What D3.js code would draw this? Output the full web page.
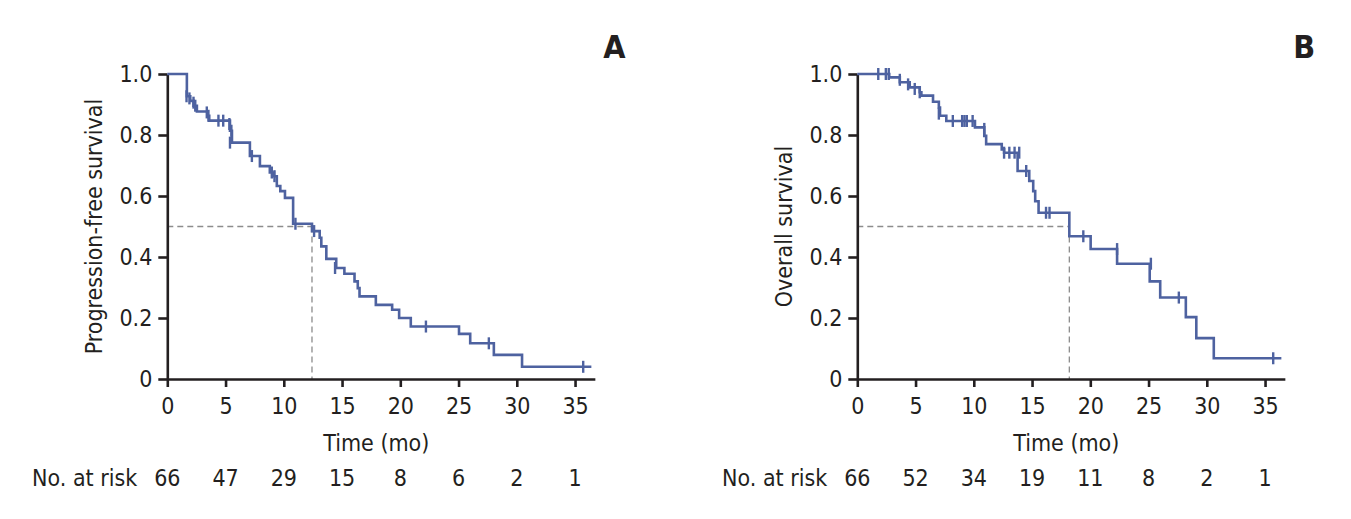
<!DOCTYPE html>
<html>
<head>
<meta charset="utf-8">
<script src="https://cdn.jsdelivr.net/npm/d3@7"></script>
<style>
  html, body { margin: 0; padding: 0; background: #fff; }
  svg { display: block; }
  text { font-family: "Liberation Sans Narrow", "DejaVu Sans Condensed", "Arial Narrow", sans-serif; fill: #231f20; }
</style>
</head>
<body>
<svg id="chart" width="1351" height="519"></svg>
<script>
// ---------- DATA ----------
const xTicks = [0, 5, 10, 15, 20, 25, 30, 35];
const yTicks = [0, 0.2, 0.4, 0.6, 0.8, 1.0];
const yTickLabels = ["0", "0.2", "0.4", "0.6", "0.8", "1.0"];

// Panel A: progression-free survival (step points: time, survival after step)
const pfsTimes = [0, 1.68, 1.97, 2.25, 2.54, 3.45, 3.6, 5.38, 5.55, 7.09, 7.95, 8.8, 9.15, 9.4, 9.7, 10.1, 10.8, 12.42, 13.08, 13.22, 13.65, 14.5, 15.2, 16.07, 16.35, 16.5, 17.9, 19.3, 19.9, 20.9, 25.04, 26.0, 28.03, 30.45, 36.4];
const pfsSurv  = [1.0, 0.927, 0.912, 0.896, 0.877, 0.863, 0.847, 0.814, 0.775, 0.731, 0.698, 0.677, 0.665, 0.633, 0.616, 0.594, 0.509, 0.485, 0.463, 0.435, 0.394, 0.364, 0.345, 0.32, 0.298, 0.271, 0.243, 0.227, 0.2, 0.172, 0.148, 0.117, 0.079, 0.04, 0.04];
const pfsCensorTimes = [1.65, 1.9, 2.25, 2.4, 3.39, 3.53, 4.39, 4.8, 5.33, 5.5, 5.38, 7.26, 8.97, 9.2, 11.0, 12.6, 14.4, 22.2, 27.6, 35.7];
const pfsCensorSurv  = [0.927, 0.92, 0.906, 0.896, 0.874, 0.863, 0.847, 0.847, 0.836, 0.814, 0.775, 0.731, 0.677, 0.665, 0.509, 0.485, 0.364, 0.172, 0.117, 0.04];
const pfsMedian = 12.42;
const pfsAtRisk = [66, 47, 29, 15, 8, 6, 2, 1];

// Panel B: overall survival
const osTimes = [0, 2.74, 3.65, 4.5, 5.36, 5.5, 6.5, 7.0, 7.1, 7.64, 10.1, 10.9, 11.06, 12.4, 12.6, 13.76, 14.76, 15.1, 15.27, 15.56, 18.2, 20.03, 22.3, 25.1, 26.0, 28.2, 29.1, 30.6, 36.4];
const osSurv  = [1.0, 0.989, 0.973, 0.956, 0.94, 0.929, 0.909, 0.89, 0.863, 0.846, 0.825, 0.797, 0.77, 0.753, 0.742, 0.682, 0.649, 0.616, 0.583, 0.545, 0.468, 0.426, 0.378, 0.32, 0.267, 0.203, 0.134, 0.068, 0.068];
const osCensorTimes = [1.8, 2.45, 2.7, 3.65, 4.36, 4.93, 5.36, 7.0, 8.2, 9.0, 9.2, 9.4, 9.9, 10.9, 12.6, 13.05, 13.5, 13.9, 14.5, 16.2, 16.5, 19.4, 22.3, 25.2, 27.6, 35.7];
const osCensorSurv  = [1.0, 1.0, 1.0, 0.981, 0.966, 0.951, 0.94, 0.87, 0.846, 0.846, 0.846, 0.846, 0.846, 0.82, 0.742, 0.742, 0.742, 0.742, 0.682, 0.545, 0.545, 0.468, 0.426, 0.378, 0.267, 0.068];
const osMedian = 18.2;
const osAtRisk = [66, 52, 34, 19, 11, 8, 2, 1];

// ---------- DRAW ----------
const svg = d3.select("#chart");
const curveColor = "#4e62a0";
const axisColor = "#231f20";
const fs = 23;

function panel(opt) {
  const x = d3.scaleLinear().domain([0, 36.7]).range([opt.left, opt.left + 36.7 * 11.65]);
  const y = d3.scaleLinear().domain([0, 1]).range([379, 74]);
  const g = svg.append("g");

  // median dashed lines
  g.append("line")
    .attr("x1", x(0)).attr("x2", x(opt.median))
    .attr("y1", y(0.5)).attr("y2", y(0.5))
    .attr("stroke", "#8c8c8c").attr("stroke-width", 1.3).attr("stroke-dasharray", "6,4");
  g.append("line")
    .attr("x1", x(opt.median)).attr("x2", x(opt.median))
    .attr("y1", y(0.5)).attr("y2", y(0))
    .attr("stroke", "#8c8c8c").attr("stroke-width", 1.3).attr("stroke-dasharray", "6,4");

  // axes
  const xAxis = d3.axisBottom(x).tickValues(xTicks).tickSize(8).tickSizeOuter(0).tickPadding(11).tickFormat(d3.format("d"));
  const yAxis = d3.axisLeft(y).tickValues(yTicks).tickSize(9).tickSizeOuter(0).tickPadding(6)
    .tickFormat((d, i) => yTickLabels[i]);

  const gx = g.append("g").attr("transform", "translate(0,379)").call(xAxis);
  const gy = g.append("g").attr("transform", `translate(${opt.left},0)`).call(yAxis);
  [gx, gy].forEach(a => {
    a.selectAll("path.domain").attr("stroke", axisColor).attr("stroke-width", 2.6);
    a.selectAll(".tick line").attr("stroke", axisColor).attr("stroke-width", 2.6);
    a.selectAll(".tick text").attr("font-size", fs).attr("fill", axisColor)
      .style("font-family", '"Liberation Sans Narrow", "DejaVu Sans Condensed", sans-serif');
  });

  // KM curve
  const pts = opt.times.map((t, i) => [t, opt.surv[i]]);
  const line = d3.line().x(d => x(d[0])).y(d => y(d[1])).curve(d3.curveStepAfter);
  g.append("path").attr("d", line(pts)).attr("fill", "none")
    .attr("stroke", curveColor).attr("stroke-width", 2.6);

  // censor marks
  g.selectAll(".cens").data(opt.cTimes.map((t, i) => [t, opt.cSurv[i]])).enter()
    .append("line")
    .attr("x1", d => x(d[0])).attr("x2", d => x(d[0]))
    .attr("y1", d => y(d[1]) - 6).attr("y2", d => y(d[1]) + 6)
    .attr("stroke", curveColor).attr("stroke-width", 2.4);

  // titles
  g.append("text").attr("transform", `translate(${opt.left - 65},${(y(0) + y(1)) / 2}) rotate(-90)`)
    .attr("text-anchor", "middle").attr("font-size", fs).text(opt.yTitle);
  g.append("text").attr("x", opt.left + 209).attr("y", 451)
    .attr("text-anchor", "middle").attr("font-size", fs).text("Time (mo)");
  g.append("text").attr("x", opt.left + 436).attr("y", 58)
    .attr("font-size", 32).attr("font-weight", "bold").text(opt.letter);

  // number at risk
  g.append("text").attr("x", opt.left - 30).attr("y", 486)
    .attr("text-anchor", "end").attr("font-size", fs).text("No. at risk");
  g.selectAll(".risk").data(opt.risk).enter().append("text")
    .attr("x", (d, i) => x(xTicks[i])).attr("y", 486)
    .attr("text-anchor", "middle").attr("font-size", fs).text(d => d);
}

panel({ left: 167.3, times: pfsTimes, surv: pfsSurv, cTimes: pfsCensorTimes, cSurv: pfsCensorSurv,
        median: pfsMedian, risk: pfsAtRisk, yTitle: "Progression-free survival", letter: "A" });
panel({ left: 857.3, times: osTimes, surv: osSurv, cTimes: osCensorTimes, cSurv: osCensorSurv,
        median: osMedian, risk: osAtRisk, yTitle: "Overall survival", letter: "B" });
</script>
</body>
</html>
